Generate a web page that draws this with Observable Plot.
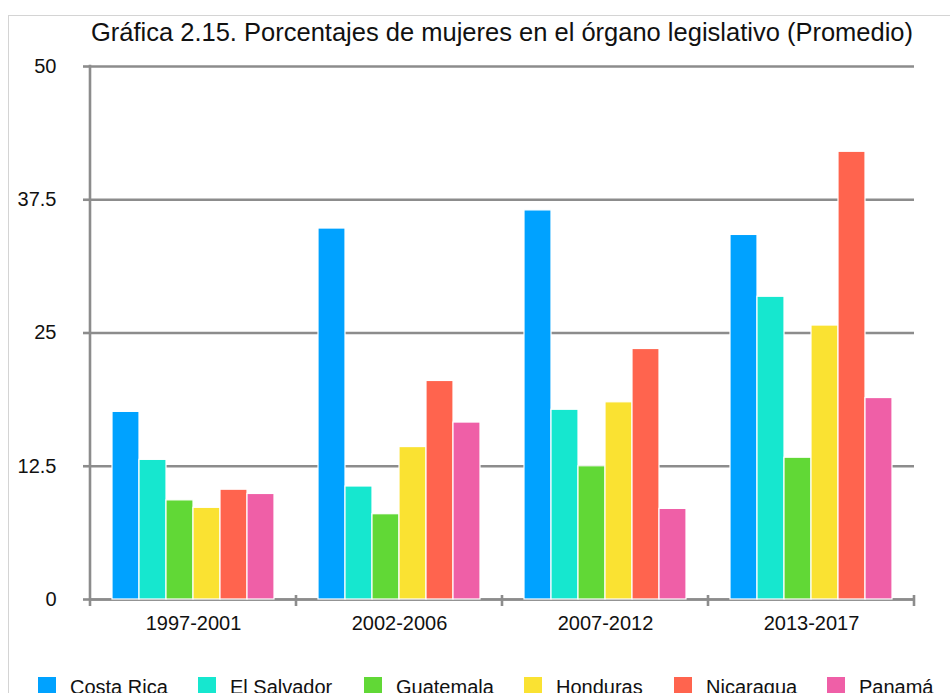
<!DOCTYPE html>
<html>
<head>
<meta charset="utf-8">
<script src="https://cdn.jsdelivr.net/npm/d3@7"></script>
<script src="https://cdn.jsdelivr.net/npm/@observablehq/plot@0.6"></script>
<style>
  html, body { margin: 0; padding: 0; background: #fff; width: 950px; height: 693px; overflow: hidden; }
  body { font-family: "Liberation Sans", Arial, sans-serif; color: #111; position: relative; }
  #frame { position: absolute; left: 8px; top: 15px; width: 1000px; height: 1000px; border-left: 1px solid #d4d4d4; border-top: 1px solid #d4d4d4; }
  #title { position: relative; margin-left: 89px; width: 826px; height: 50px; box-sizing: border-box; padding-top: 20px; text-align: center; font-size: 25.5px; line-height: 25px; white-space: nowrap; }
  #chart { position: relative; height: 600px; }
  #legend { position: relative; height: 43px; font-size: 20px; line-height: 20px; }
  .item { position: absolute; top: 27px; display: flex; align-items: flex-start; white-space: nowrap; }
  .sw { width: 18px; height: 20px; margin-right: 14px; flex: none; }
</style>
</head>
<body>
<div id="frame"></div>
<div id="title">Gráfica 2.15. Porcentajes de mujeres en el órgano legislativo (Promedio)</div>
<div id="chart"></div>
<div id="legend"></div>
<script>
const periods = ["1997-2001", "2002-2006", "2007-2012", "2013-2017"];
const countries = ["Costa Rica", "El Salvador", "Guatemala", "Honduras", "Nicaragua", "Panamá"];
const colors = ["#00A2FF", "#16E7CF", "#61D836", "#FAE232", "#FF644E", "#EF5FA7"];
const costaRica  = [17.6, 34.8, 36.5, 34.2];
const elSalvador = [13.1, 10.6, 17.8, 28.4];
const guatemala  = [9.3, 8.0, 12.5, 13.3];
const honduras   = [8.6, 14.3, 18.5, 25.7];
const nicaragua  = [10.3, 20.5, 23.5, 42.0];
const panama     = [9.9, 16.6, 8.5, 18.9];
const yTicks = [0, 12.5, 25, 37.5, 50];

const series = [costaRica, elSalvador, guatemala, honduras, nicaragua, panama];
const data = periods.flatMap((p, i) => countries.map((c, j) => ({period: p, country: c, value: series[j][i]})));

const gray = "#8c8c8c";
const chart = Plot.plot({
  width: 950,
  height: 600,
  marginTop: 16,
  marginBottom: 51,
  marginLeft: 89,
  marginRight: 35,
  style: {fontFamily: "'Liberation Sans', Arial, sans-serif", color: "#111", background: "transparent"},
  fx: {domain: periods, padding: 0, label: null},
  x: {domain: countries, paddingInner: 0, paddingOuter: 0.75, axis: null},
  y: {domain: [0, 50], label: null},
  color: {domain: countries, range: colors},
  marks: [
    Plot.gridY(yTicks, {stroke: gray, strokeOpacity: 1, strokeWidth: 2.6}),
    Plot.ruleY([0], {stroke: gray, strokeWidth: 2.6}),
    Plot.axisY(yTicks, {tickSize: 7, tickPadding: 27, stroke: gray, strokeWidth: 2.6, fill: "#111", fontSize: 20, tickFormat: d => String(d), label: null}),
    Plot.barY(data, {fx: "period", x: "country", y: "value", fill: "country", stroke: "white", strokeWidth: 1.2, inset: 0}),
    Plot.axisFx({anchor: "bottom", tickSize: 0, tickPadding: 16, fontSize: 20, fill: "#111", label: null})
  ]
});

// y-axis line and group boundary ticks from the chart's own scales
const fx = chart.scale("fx");
const ys = chart.scale("y");
const svg = d3.select(chart);
const y0 = ys.apply(0), yTop = ys.apply(50);
const g = svg.append("g").attr("stroke", gray).attr("stroke-width", 2.6);
const bounds = periods.map(p => fx.apply(p)).concat([fx.apply(periods[periods.length - 1]) + fx.bandwidth]);
g.append("line").attr("x1", bounds[0]).attr("x2", bounds[0]).attr("y1", yTop - 1.3).attr("y2", y0 + 7);
bounds.slice(1).forEach(b => {
  g.append("line").attr("x1", b).attr("x2", b).attr("y1", y0 - 4).attr("y2", y0 + 7);
});

document.getElementById("chart").appendChild(chart);

const legendX = [38, 198, 364, 524, 674, 827];
const legend = document.getElementById("legend");
countries.forEach((c, i) => {
  const item = document.createElement("div");
  item.className = "item";
  item.style.left = legendX[i] + "px";
  const sw = document.createElement("div");
  sw.className = "sw";
  sw.style.background = colors[i];
  const t = document.createElement("span");
  t.textContent = c;
  item.appendChild(sw);
  item.appendChild(t);
  legend.appendChild(item);
});
</script>
</body>
</html>
